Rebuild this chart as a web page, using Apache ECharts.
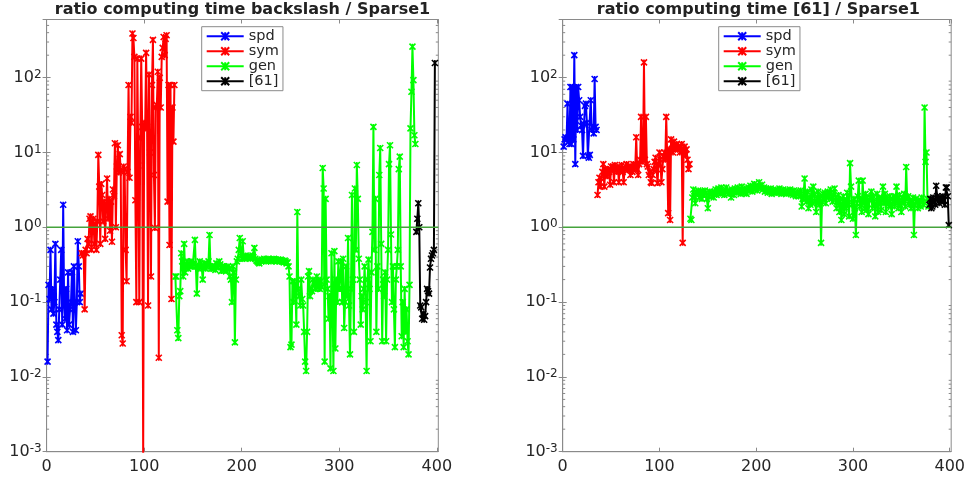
<!DOCTYPE html>
<html><head><meta charset="utf-8">
<script src="https://cdn.jsdelivr.net/npm/echarts@6/dist/echarts.min.js"></script>
<style>html,body{margin:0;padding:0;background:#fff}#c{width:968px;height:478px}</style>
</head><body><div id="c"></div>
<script>
// ---------- data ----------
const seriesNames = ['spd', 'sym', 'gen', '[61]'];
const xTickValues = [0, 100, 200, 300, 400];
const yTickExponents = [-3, -2, -1, 0, 1, 2];
const titles = ['ratio computing time backslash / Sparse1', 'ratio computing time [61] / Sparse1'];
const spdStart = 1, symStart = 36, genStart = 132, r61Start = 379;

// left panel: backslash / Sparse1
const backslashSpd = [0.016, 0.17, 0.11, 0.5, 0.08, 0.15, 0.07, 0.1, 0.6, 0.05,
  0.04, 0.031, 0.08, 0.2, 0.5, 0.05, 2.0, 0.09, 0.06, 0.15,
  0.042, 0.25, 0.05, 0.08, 0.1, 0.25, 0.04, 0.3, 0.1, 0.042,
  0.1, 0.65, 0.3, 0.1, 0.13];
const backslashSym = [0.45, 0.42, 0.45, 0.08, 0.5, 0.45, 0.7, 0.6, 1.3, 1.4,
  0.5, 1.2, 1.3, 0.6, 1.1, 0.5, 1.2, 9.3, 3.5, 0.6,
  3.8, 2.7, 1.2, 2.2, 0.7, 1.9, 4.5, 1.3, 2.4, 0.9,
  2.2, 0.64, 3.2, 2.6, 13.3, 1.0, 6.5, 12.5, 5.4, 9.5,
  5.6, 0.036, 0.028, 6.5, 6.0, 0.5, 0.19, 5.5, 80, 4.6,
  30, 25, 390, 340, 190, 2.3, 0.1, 180, 6.7, 0.1,
  15.7, 180, 22, 0.0008, 25, 21, 215, 22, 0.09, 110,
  10, 0.22, 80, 320, 5, 0.98, 40, 43, 120, 0.018,
  100, 40, 190, 250, 350, 200, 330, 370, 2.2, 80,
  0.58, 80, 0.11, 40, 14, 80];
const backslashGen = [0.22, 0.22, 0.042, 0.033, 0.12, 0.14, 0.45, 0.35, 0.22, 0.6,
  0.25, 0.3, 0.35, 0.28, 0.33, 0.3, 0.35, 0.3, 0.33, 0.32,
  0.68, 0.3, 0.13, 0.3, 0.28, 0.35, 0.33, 0.3, 0.2, 0.3,
  0.33, 0.28, 0.3, 0.32, 0.35, 0.79, 0.3, 0.28, 0.3, 0.28,
  0.3, 0.27, 0.33, 0.3, 0.29, 0.35, 0.32, 0.26, 0.3, 0.28,
  0.3, 0.27, 0.26, 0.28, 0.3, 0.28, 0.22, 0.2, 0.1, 0.3,
  0.25, 0.029, 0.2, 0.35, 0.38, 0.5, 0.72, 0.45, 0.38, 0.65,
  0.4, 0.38, 0.42, 0.4, 0.39, 0.41, 0.4, 0.38, 0.4, 0.42,
  0.4, 0.53, 0.38, 0.36, 0.35, 0.34, 0.33, 0.36, 0.35, 0.37,
  0.36, 0.38, 0.37, 0.35, 0.36, 0.38, 0.37, 0.36, 0.35, 0.37,
  0.36, 0.38, 0.37, 0.36, 0.35, 0.37, 0.36, 0.35, 0.37, 0.36,
  0.35, 0.34, 0.36, 0.35, 0.33, 0.34, 0.3, 0.22, 0.025, 0.027,
  0.19, 0.1, 0.19, 0.15, 0.05, 1.6, 0.15, 0.12, 0.09, 0.2,
  0.11, 0.09, 0.04, 0.016, 0.012, 0.04, 0.22, 0.26, 0.12, 0.15,
  0.14, 0.2, 0.18, 0.19, 0.15, 0.22, 0.16, 0.2, 0.15, 0.19,
  0.16, 6.2, 3.3, 0.016, 2.4, 0.2, 0.15, 0.06, 0.12, 0.013,
  0.45, 0.12, 0.012, 0.48, 0.024, 0.2, 0.1, 0.35, 0.15,
  0.15, 0.35, 0.1, 0.38, 0.045, 0.1, 0.3, 0.12, 0.72, 0.09,
  0.02, 0.15, 2.7, 0.2, 0.04, 3.3, 0.5, 6.8, 2.4, 0.38,
  0.2, 0.05, 0.12, 0.08, 0.15, 0.3, 0.1, 0.012, 0.2, 0.37,
  0.15, 0.03, 0.25, 0.87, 22, 0.5, 2.4, 0.04, 0.3, 0.15,
  5, 11.5, 0.6, 0.03, 0.2, 0.12, 0.25, 0.03, 0.2, 0.5,
  7, 12.5, 0.8, 0.1, 0.3, 0.08, 0.025, 0.2, 0.3, 0.5,
  6, 8.8, 0.3, 0.035, 0.1, 0.025, 0.15, 0.04, 0.08, 0.03,
  0.02, 0.17, 21, 65, 260, 93, 17, 13];
const backslash61 = [0.87, 1.3, 2.1, 1.0, 0.09, 0.085, 0.06, 0.07, 0.058, 0.065,
  0.1, 0.15, 0.14, 0.13, 0.29, 0.38, 0.42, 0.45, 0.5, 157];

// right panel: [61] / Sparse1
const ref61Spd = [12, 15, 16, 15, 45, 14, 13, 75, 13, 75,
  15, 200, 7, 75, 20, 75, 50, 30, 23, 20,
  9, 24, 42, 45, 25, 9, 8.5, 9.3, 50, 20,
  22, 18, 96, 22, 20];
const ref61Sym = [2.7, 4, 4.6, 3.5, 4.5, 5.5, 7, 3.5, 6, 5,
  4.8, 6, 5.5, 3.7, 6.5, 5.8, 6.5, 4, 6.8, 6,
  5.5, 6.5, 4, 6.2, 5.8, 6.8, 5.5, 4, 6, 6.5,
  7, 5.8, 6.5, 6, 5, 6.5, 5.5, 7, 6, 6.5,
  16, 6, 5, 7, 8, 30, 7.5, 8, 160, 8,
  30, 7, 6.5, 5, 5.5, 4, 3.9, 5, 6, 7.5,
  8.5, 6, 3.9, 7, 10, 8, 4, 6, 9, 10,
  8, 30, 9, 1.55, 11, 1.25, 15, 13, 10, 14,
  11, 12, 13, 11, 12, 10, 12, 13, 0.62, 11,
  12, 9.3, 11, 8, 6, 7];
const ref61Gen = [1.3, 1.25, 2.5, 3.2, 2.6, 2.1, 3.0, 2.8, 3.1, 2.5,
  2.8, 3.0, 2.4, 3.0, 2.7, 3.1, 2.9, 2.4, 1.8, 2.6,
  3.0, 2.8, 2.6, 2.9, 2.5, 3.0, 3.2, 2.7, 2.9, 3.3,
  3.1, 2.8, 3.4, 2.9, 3.0, 2.7, 3.2, 3.4, 3.0, 2.8,
  3.1, 2.9, 2.5, 3.2, 3.0, 2.7, 3.3, 3.1, 2.9, 3.4,
  3.0, 3.2, 2.8, 3.5, 3.1, 2.9, 3.3, 3.0, 2.8, 3.2,
  3.4, 3.1, 3.6, 3.3, 3.0, 3.5, 3.8, 3.2, 3.4, 3.1,
  3.6, 4.0, 3.5, 3.3, 3.7, 3.2, 3.4, 3.0, 3.3, 3.1,
  2.9, 3.2, 3.0, 3.3, 2.8, 3.1, 3.0, 2.9, 3.2, 3.0,
  3.1, 2.9, 3.3, 3.0, 2.8, 3.1, 3.2, 2.9, 3.0, 2.8,
  3.1, 3.0, 2.9, 3.2, 2.8, 3.0, 2.7, 3.1, 2.9, 2.6,
  2.8, 3.0, 2.6, 2.9, 3.1, 1.9, 2.4, 2.8, 4.5, 2.4,
  2.2, 3.0, 1.8, 2.5, 2.0, 3.2, 2.1, 3.5, 2.8, 2.2,
  1.6, 2.4, 3.0, 2.0, 2.6, 0.62, 2.2, 2.8, 2.4, 2.9,
  2.1, 2.6, 3.0, 2.5, 2.8, 3.2, 2.4, 2.2, 2.9, 3.3,
  2.5, 1.8, 2.2, 2.7, 1.6, 2.4, 1.25, 2.0, 2.6, 1.5,
  2.3, 1.8, 2.9, 2.1, 1.4, 7.2, 3.5, 2.0, 1.3, 2.4,
  1.8, 0.79, 2.1, 2.6, 4.2, 1.9, 2.4, 1.6, 4.2, 2.2,
  1.8, 2.8, 1.7, 2.5, 1.5, 2.3, 2.5, 3.0, 1.8, 2.6,
  2.2, 1.4, 2.0, 2.8, 1.6, 2.5, 2.2, 1.7, 2.4, 3.5,
  2.1, 2.8, 1.6, 2.5, 2.2, 1.9, 2.6, 2.0, 1.5, 2.4,
  2.6, 1.9, 2.3, 3.5, 2.2, 1.8, 2.7, 2.0, 1.6, 2.5,
  2.2, 2.8, 1.9, 6.4, 2.4, 2.6, 2.0, 2.3, 1.8, 2.2,
  2.5, 0.79, 2.0, 2.4, 2.2, 1.8, 2.3, 2.0, 1.9, 2.5,
  2.2, 2.0, 40, 7.5, 10, 2.4, 1.9];
const ref61_61 = [2.0, 2.4, 1.8, 1.9, 2.5, 2.2, 2.0, 3.6, 2.6, 2.4,
  2.1, 2.5, 2.2, 2.4, 2.6, 2.3, 2.0, 3.4, 3.4, 2.6, 1.07];

const referenceLevel = 1;
const minorTickMultipliers = [2, 3, 4, 5, 6, 7, 8, 9];

// ---------- styling ----------
const COLORS = ['#0000ff', '#ff0000', '#00ff00', '#000000'];
const AX = '#8a8a8a', TXT = '#262626', REF = '#45a33c';
const FONT = 'DejaVu Sans';
const X_MAX = 401.5, Y_MIN = 0.001, Y_MAX = 600;
const MARK = 'path://M0,0L10,10M10,0L0,10M5,0L5,10';

const minorVals = [];
for (let e = -3; e <= 2; e++) for (const m of minorTickMultipliers) {
  const v = m * Math.pow(10, e); if (v < Y_MAX) minorVals.push([0, v]);
}

function pairs(start, arr) { return arr.map((v, i) => [start + i, v]); }

const grids = [
  { left: 46.6, top: 19.5, width: 391.7, height: 432.2 },
  { left: 562.7, top: 19.5, width: 391.3, height: 432.2 }
];

const xAxes = [], yAxes = [], series = [], legends = [], graphics = [];
const panels = [
  [backslashSpd, backslashSym, backslashGen, backslash61],
  [ref61Spd, ref61Sym, ref61Gen, ref61_61]
];
const starts = [spdStart, symStart, genStart, r61Start];

grids.forEach((g, k) => {
  const tickCommon = { show: true, inside: true, length: 4, lineStyle: { color: AX, width: 1 } };
  xAxes.push({ gridIndex: k, type: 'value', min: 0, max: X_MAX, interval: 100, position: 'bottom',
    axisLine: { show: true, lineStyle: { color: AX } }, axisTick: tickCommon, splitLine: { show: false },
    axisLabel: { color: TXT, fontSize: 16, fontFamily: FONT, margin: 7, showMaxLabel: false,
      formatter: v => xTickValues.includes(v) ? String(v) : '' } });
  xAxes.push({ gridIndex: k, type: 'value', min: 0, max: X_MAX, interval: 100, position: 'top',
    axisLine: { show: true, lineStyle: { color: AX } }, axisTick: tickCommon, splitLine: { show: false },
    axisLabel: { show: false } });
  yAxes.push({ gridIndex: k, type: 'log', logBase: 10, min: Y_MIN, max: Y_MAX, position: 'left',
    axisLine: { show: true, lineStyle: { color: AX } }, axisTick: tickCommon, splitLine: { show: false },
    axisLabel: { color: TXT, margin: 5, showMaxLabel: false,
      formatter: v => { const e = Math.round(Math.log10(v)); return yTickExponents.includes(e) ? '{b|10}{s|' + e + '}' : ''; },
      rich: { b: { fontSize: 16, fontFamily: FONT, color: TXT, lineHeight: 18 },
              s: { fontSize: 12, fontFamily: FONT, color: TXT, verticalAlign: 'top', lineHeight: 14 } } } });
  yAxes.push({ gridIndex: k, type: 'log', logBase: 10, min: Y_MIN, max: Y_MAX, position: 'right',
    axisLine: { show: true, lineStyle: { color: AX } }, axisTick: tickCommon, splitLine: { show: false },
    axisLabel: { show: false } });

  // minor log ticks on both vertical edges
  series.push({ type: 'custom', xAxisIndex: 2 * k, yAxisIndex: 2 * k, silent: true, z: 1,
    encode: { x: 0, y: 1 }, data: minorVals,
    renderItem: (params, api) => {
      const p = api.coord([0, api.value(1)]); const cs = params.coordSys; const L = 2.5;
      return { type: 'group', children: [
        { type: 'line', shape: { x1: cs.x, y1: p[1], x2: cs.x + L, y2: p[1] }, style: { stroke: AX, lineWidth: 1 } },
        { type: 'line', shape: { x1: cs.x + cs.width, y1: p[1], x2: cs.x + cs.width - L, y2: p[1] }, style: { stroke: AX, lineWidth: 1 } }
      ] };
    } });

  panels[k].forEach((arr, i) => {
    series.push({ name: seriesNames[i], type: 'line', xAxisIndex: 2 * k, yAxisIndex: 2 * k,
      data: pairs(starts[i], arr), symbol: MARK, symbolSize: 6, showAllSymbol: true,
      lineStyle: { color: COLORS[i], width: 2 },
      itemStyle: { color: COLORS[i], borderColor: COLORS[i], borderWidth: 1.6 },
      emphasis: { disabled: true }, z: 3 + i });
  });
  series.push({ name: 'ref', type: 'line', xAxisIndex: 2 * k, yAxisIndex: 2 * k,
    data: [[0, referenceLevel], [X_MAX, referenceLevel]], symbol: 'none', silent: true,
    lineStyle: { color: REF, width: 1.6 }, z: 8 });

  legends.push({ data: seriesNames, orient: 'vertical', left: k === 0 ? 201.7 : 718.7, top: 26.7,
    padding: [2, 4, 2, 4], itemGap: 0, itemWidth: 37, itemHeight: 10, selectedMode: false,
    backgroundColor: '#fff', borderColor: AX, borderWidth: 1,
    textStyle: { fontSize: 14.5, fontFamily: FONT, color: TXT, lineHeight: 15 } });

  graphics.push({ type: 'text', x: g.left + g.width / 2, y: 10, z: 10,
    style: { text: titles[k], fontSize: 16, fontWeight: 'bold', fontFamily: FONT, fill: '#222',
      align: 'center', verticalAlign: 'middle' } });
});

const chart = echarts.init(document.getElementById('c'), null, { renderer: 'canvas' });
chart.setOption({
  animation: false,
  backgroundColor: '#fff',
  grid: grids.map(g => Object.assign({ show: true, borderColor: AX, borderWidth: 1, backgroundColor: 'transparent' }, g)),
  xAxis: xAxes, yAxis: yAxes, series: series, legend: legends, graphic: graphics
});
</script></body></html>
